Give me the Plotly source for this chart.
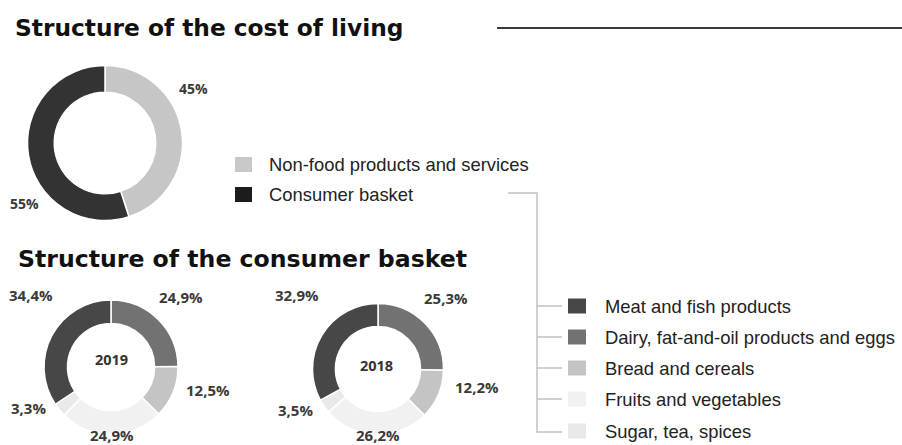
import plotly.graph_objects as go

W, H = 902, 445

# ---------------- data ----------------
top_title = "Structure of the cost of living"
top_labels = ["Non-food products and services", "Consumer basket"]
top_values = [45, 55]
top_text = ["45%", "55%"]

basket_title = "Structure of the consumer basket"
basket_labels = ["Meat and fish products", "Dairy, fat-and-oil products and eggs",
                 "Bread and cereals", "Fruits and vegetables", "Sugar, tea, spices"]
values_2019 = [34.4, 24.9, 12.5, 24.9, 3.3]
values_2018 = [32.9, 25.3, 12.2, 26.2, 3.5]
text_2019 = ["34,4%", "24,9%", "12,5%", "24,9%", "3,3%"]
text_2018 = ["32,9%", "25,3%", "12,2%", "26,2%", "3,5%"]
years = ["2019", "2018"]

# ---------------- style ----------------
top_colors = ["#c6c6c6", "#333333"]
top_legend_colors = ["#c8c8c8", "#1c1c1c"]
basket_colors = ["#474747", "#727272", "#c4c4c4", "#f1f1f1", "#e9e9e9"]
draw_order = [1, 2, 3, 4, 0]  # clockwise from 12 o'clock


def fx(x):
    return x / W


def fy(y):
    return 1 - y / H


def domain(cx, cy, d):
    return dict(x=[fx(cx - d / 2), fx(cx + d / 2)], y=[fy(cy + d / 2), fy(cy - d / 2)])


fig = go.Figure()

fig.add_trace(go.Pie(
    labels=top_labels, values=top_values, hole=0.655, sort=False,
    direction="clockwise", rotation=0, textinfo="none", hoverinfo="label+percent",
    marker=dict(colors=top_colors, line=dict(color="#ffffff", width=1.5)),
    domain=domain(105, 143, 155), showlegend=False,
))

for vals, (cx, cy, d) in zip([values_2019, values_2018], [(111, 367, 134), (378, 369, 131)]):
    fig.add_trace(go.Pie(
        labels=[basket_labels[i] for i in draw_order],
        values=[vals[i] for i in draw_order],
        hole=0.65, sort=False, direction="clockwise", rotation=0,
        textinfo="none", hoverinfo="label+percent",
        marker=dict(colors=[basket_colors[i] for i in draw_order],
                    line=dict(color="#ffffff", width=1.5)),
        domain=domain(cx, cy, d), showlegend=False,
    ))

ann = []
shapes = []


def text(x, y, s, size, family, color="#222222", anchor="center", bold=False):
    ann.append(dict(x=fx(x), y=fy(y), xref="paper", yref="paper", showarrow=False,
                    text=("<b>%s</b>" % s) if bold else s, xanchor=anchor, yanchor="middle",
                    font=dict(size=size, family=family, color=color)))


# titles
text(13, 28, top_title, 23.3, "DejaVu Sans", "#111111", "left", True)
text(16, 259, basket_title, 23.6, "DejaVu Sans", "#111111", "left", True)

# top rule
shapes.append(dict(type="line", xref="paper", yref="paper", x0=fx(497), x1=fx(902),
                   y0=fy(28), y1=fy(28), line=dict(color="#3a3a3a", width=2)))

# top pie labels
lab_font = "Open Sans"
text(193, 89, top_text[0], 14, lab_font, "#3a3a3a", bold=True)
text(24, 204, top_text[1], 14, lab_font, "#3a3a3a", bold=True)

# top legend
for i, (lab, col) in enumerate(zip(top_labels, top_legend_colors)):
    yc = 164.5 + 30 * i
    shapes.append(dict(type="rect", xref="paper", yref="paper", x0=fx(235), x1=fx(252),
                       y0=fy(yc + 7.5), y1=fy(yc - 7.5), fillcolor=col, line=dict(width=0)))
    text(267, yc, lab, 18.4, "Liberation Sans", "#222222", "left")

# basket pie labels
pos_2019 = [(31, 295), (181, 297), (208, 390), (112, 435), (28, 408)]
pos_2018 = [(297, 295), (446, 298), (477, 387), (378, 435), (295, 410)]
for txts, poss in [(text_2019, pos_2019), (text_2018, pos_2018)]:
    for t, (x, y) in zip(txts, poss):
        text(x, y, t, 15, lab_font, "#3a3a3a", bold=True)

text(111, 359, years[0], 14.5, lab_font, "#333333", bold=True)
text(376, 365, years[1], 14.5, lab_font, "#333333", bold=True)

# bracket
bc = "#c2c2c2"
shapes.append(dict(type="path", xref="paper", yref="paper",
                   path="M %f %f L %f %f L %f %f L %f %f" % (fx(508), fy(193), fx(537), fy(193),
                                                          fx(537), fy(432), fx(562), fy(432)),
                   line=dict(color=bc, width=1.5)))
leg_y = [306, 337, 368, 399, 431]
for yc in leg_y[:-1]:
    shapes.append(dict(type="line", xref="paper", yref="paper", x0=fx(537), x1=fx(562),
                       y0=fy(yc), y1=fy(yc), line=dict(color=bc, width=1.5)))

for lab, col, yc in zip(basket_labels, basket_colors, leg_y):
    shapes.append(dict(type="rect", xref="paper", yref="paper", x0=fx(568), x1=fx(586),
                       y0=fy(yc + 7.5), y1=fy(yc - 7.5), fillcolor=col, line=dict(width=0)))
    text(603, yc, lab, 18.4, "Liberation Sans", "#222222", "left")

fig.update_layout(
    width=W, height=H, margin=dict(l=0, r=0, t=0, b=0),
    paper_bgcolor="#ffffff", plot_bgcolor="#ffffff",
    annotations=ann, shapes=shapes, showlegend=False,
)

fig.write_html("out.html", config={"displayModeBar": False})
